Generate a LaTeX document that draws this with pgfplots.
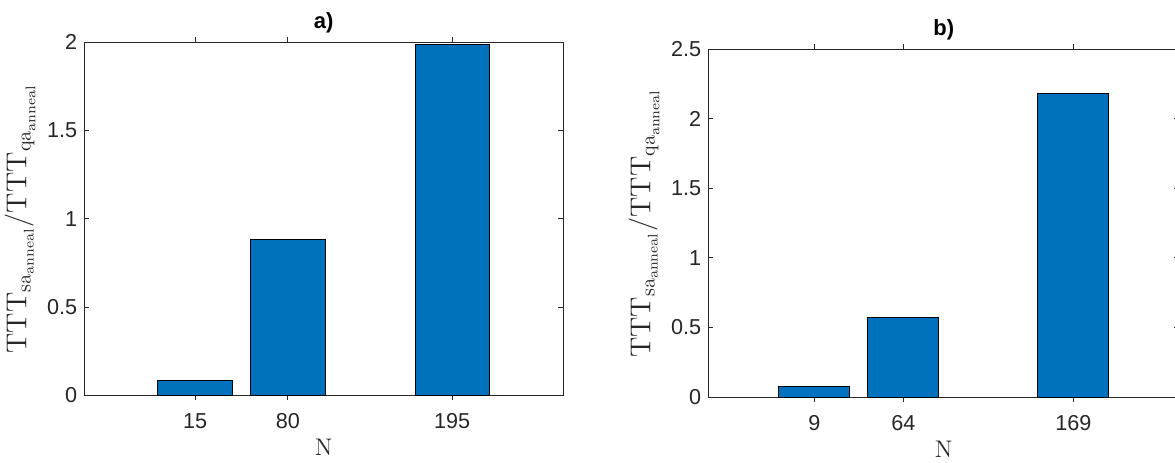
\documentclass[border=0pt]{standalone}
\usepackage{pgfplots}
\pgfplotsset{compat=1.18}
\usepackage[no-math]{fontspec}
\setmainfont{Liberation Sans}
\definecolor{mblue}{RGB}{0,114,189}
\definecolor{axgray}{RGB}{38,38,38}
\pgfplotsset{
  mstyle/.style={
    scale only axis,
    anchor=south west,
    axis line style={axgray, line width=0.5pt},
    tick style={axgray, line width=0.5pt},
    tick align=inside,
    major tick length=2.5pt,
    xtick pos=both, ytick pos=both,
    ymin=0,
    xtick={#1},
    tick label style={font=\fontsize{10.8pt}{12pt}\selectfont, text=axgray},
    xticklabel style={yshift=-3pt},
    /pgf/number format/assume math mode=true,
    yticklabel style={/pgf/number format/fixed},
    xlabel={$\mathrm{N}$},
    xlabel style={font=\fontsize{11.7pt}{13pt}\selectfont, text=axgray, yshift=1.5pt},
    ylabel={$\mathrm{TTT}_{\mathrm{sa}_{\mathrm{anneal}}}/\mathrm{TTT}_{\mathrm{qa}_{\mathrm{anneal}}}$},
    ylabel style={font=\fontsize{14pt}{16pt}\selectfont, text=axgray, yshift=-1pt},
    title style={font=\bfseries\fontsize{11pt}{13pt}\selectfont, yshift=-5pt},
    ybar, bar shift=0pt,
    clip=false,
  }
}
\begin{document}
\begin{tikzpicture}
\begin{axis}[mstyle={15,80,195},
  at={(42.15pt,33.35pt)}, width=239.35pt, height=176.5pt,
  xmin=-62.6, xmax=272.6, ymax=2,
  ytick={0,0.5,1,1.5,2},
  bar width=52,
  title={a)}]
\addplot[fill=mblue, draw=black, line width=0.5pt] coordinates {(15,0.086) (80,0.884) (195,1.989)};
\end{axis}
\begin{axis}[mstyle={9,64,169},
  at={(354.15pt,32.5pt)}, width=235.5pt, height=173.85pt,
  xmin=-56.5, xmax=234.5, ymax=2.5,
  ytick={0,0.5,1,1.5,2,2.5},
  bar width=44,
  title={b)}]
\addplot[fill=mblue, draw=black, line width=0.5pt] coordinates {(9,0.077) (64,0.573) (169,2.183)};
\end{axis}
\pgfresetboundingbox
\path[use as bounding box] (0,0) rectangle (587.5pt,231pt);
\end{tikzpicture}
\end{document}
